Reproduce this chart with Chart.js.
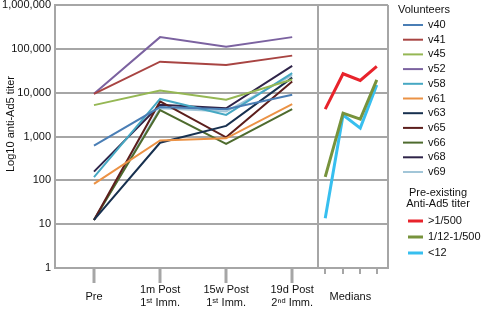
<!DOCTYPE html>
<html>
<head>
<meta charset="utf-8">
<script src="https://cdn.jsdelivr.net/npm/chart.js@4.4.1/dist/chart.umd.min.js"></script>
<style>
html, body { margin: 0; padding: 0; background: #fff; }
#wrap { width: 483px; height: 314px; }
</style>
</head>
<body>
<div id="wrap"><canvas id="titers" width="483" height="314"></canvas></div>
<script>
// x slots: four time points, then the medians panel
const timeLabels = [["Pre"], ["1m Post", "1ˢᵗ Imm."], ["15w Post", "1ˢᵗ Imm."], ["19d Post", "2ⁿᵈ Imm."]];
const timeX = [0, 1, 2, 3];
const medianX = [3.5, 3.77, 4.03, 4.28];
const medianLabelX = 3.88;
const splitX = 3.39;
const xMin = -0.59, xMax = 4.45;
const yTicks = [1, 10, 100, 1000, 10000, 100000, 1000000];

// titers per volunteer (Pre, 1m, 15w, 19d)
const volunteerNames = ["v40", "v41", "v45", "v52", "v58", "v61", "v63", "v65", "v66", "v68", "v69"];
const v40 = [620, 4700, 4200, 9000];
const v41 = [9400, 51000, 43000, 70000];
const v45 = [5200, 11200, 6900, 20000];
const v52 = [9400, 185000, 112000, 185000];
const v58 = [118, 7200, 3100, 28000];
const v61 = [83, 810, 910, 5500];
const v63 = [12.5, 720, 1750, 22000];
const v65 = [12.5, 6300, 960, 18000];
const v66 = [12.5, 4000, 680, 4200];
const v68 = [158, 5300, 4400, 41000];
const v69 = [12.5, 4400, 3700, 25000];
const volunteerColors = ["#4A7EB5", "#A84442", "#95B754", "#7B62A0", "#46A8C3", "#EB9245",
                         "#17304F", "#5C1E1C", "#4E6B2E", "#2F2449", "#A2C6D8"];

// medians by pre-existing titer group
const medianGroups = [">1/500", "1/12-1/500", "<12"];
const medHigh = [4200, 27000, 19000, 40000];
const medMid = [120, 3400, 2500, 19500];
const medLow = [13.6, 3100, 1550, 15000];
const medianColors = ["#E8232B", "#77933C", "#37BFEF"];

const gridGrey = "#A6A6A6";
const font = "'Liberation Sans', Arial, sans-serif";

function pts(xs, ys) {
    return ys.map(function(y, i) { return {x: xs[i], y: y}; });
}

var datasets = [];
[v40, v41, v45, v52, v58, v61, v63, v65, v66, v68, v69].forEach(function(vals, i) {
    datasets.push({
        label: volunteerNames[i],
        data: pts(timeX, vals),
        borderColor: volunteerColors[i],
        borderWidth: 2,
        pointRadius: 0,
        tension: 0,
        group: 'vol'
    });
});
[medHigh, medMid, medLow].forEach(function(vals, i) {
    datasets.push({
        label: medianGroups[i],
        data: pts(medianX, vals),
        borderColor: medianColors[i],
        borderWidth: 3,
        pointRadius: 0,
        tension: 0,
        group: 'med'
    });
});

// y title, x tick marks and the two-part legend
const extras = {
    id: 'extras',
    afterDraw(chart) {
        var ctx = chart.ctx;
        var xs = chart.scales.x;
        var bottom = chart.chartArea.bottom;
        ctx.save();
        ctx.strokeStyle = gridGrey;
        ctx.lineWidth = 3;
        timeX.forEach(function(v) {
            var px = Math.round(xs.getPixelForValue(v));
            ctx.beginPath(); ctx.moveTo(px, bottom); ctx.lineTo(px, bottom + 15); ctx.stroke();
        });
        ctx.lineWidth = 2;
        medianX.forEach(function(v) {
            var px = Math.round(xs.getPixelForValue(v));
            ctx.beginPath(); ctx.moveTo(px, bottom); ctx.lineTo(px, bottom + 6); ctx.stroke();
        });

        ctx.fillStyle = "#111";
        ctx.font = "11px " + font;
        ctx.translate(11, 124);
        ctx.rotate(-Math.PI / 2);
        ctx.textAlign = 'center';
        ctx.textBaseline = 'middle';
        ctx.fillText("Log10 anti-Ad5 titer", 0, 0);
        ctx.restore();

        ctx.save();
        ctx.font = "11px " + font;
        ctx.fillStyle = "#111";
        ctx.textBaseline = 'middle';
        ctx.textAlign = 'left';
        ctx.fillText("Volunteers", 398, 10);
        var ds = chart.data.datasets;
        var vi = 0, mi = 0;
        ds.forEach(function(d) {
            var y;
            if (d.group === 'vol') {
                y = 25 + vi * 14.7; vi++;
                ctx.strokeStyle = d.borderColor; ctx.lineWidth = 2;
                ctx.beginPath(); ctx.moveTo(403, y); ctx.lineTo(423, y); ctx.stroke();
            } else {
                y = 221 + mi * 16; mi++;
                ctx.strokeStyle = d.borderColor; ctx.lineWidth = 3;
                ctx.beginPath(); ctx.moveTo(408, y); ctx.lineTo(423, y); ctx.stroke();
            }
            ctx.fillText(d.label, 428, y);
        });
        ctx.textAlign = 'center';
        ctx.fillText("Pre-existing", 438, 193);
        ctx.fillText("Anti-Ad5 titer", 438, 204);
        ctx.restore();
    }
};

new Chart(document.getElementById("titers"), {
    type: 'line',
    data: { datasets: datasets },
    plugins: [extras],
    options: {
        responsive: false,
        animation: false,
        layout: { padding: { top: 5, right: 95, left: 0, bottom: 0 } },
        plugins: { legend: { display: false }, tooltip: { enabled: false } },
        scales: {
            x: {
                type: 'linear',
                min: xMin,
                max: xMax,
                afterBuildTicks: function(scale) {
                    scale.ticks = timeX.concat([splitX, medianLabelX, xMax]).map(function(v) { return {value: v}; });
                },
                afterFit: function(scale) { scale.height = 46; scale.paddingRight = 0; scale.paddingLeft = 0; },
                grid: {
                    drawTicks: false,
                    lineWidth: 2,
                    color: function(c) {
                        if (c.tick && (c.tick.value === splitX || c.tick.value === xMax)) return gridGrey;
                        return 'rgba(0,0,0,0)';
                    }
                },
                border: { color: gridGrey, width: 2 },
                ticks: {
                    autoSkip: false,
                    maxRotation: 0,
                    minRotation: 0,
                    padding: 22,
                    crossAlign: 'center',
                    color: "#111",
                    font: { family: font, size: 11 },
                    callback: function(value, i) {
                        if (i < timeLabels.length) return timeLabels[i];
                        if (value === medianLabelX) return "Medians";
                        return "";
                    }
                }
            },
            y: {
                type: 'logarithmic',
                min: 1,
                max: 1000000,
                afterBuildTicks: function(scale) {
                    scale.ticks = yTicks.map(function(v) { return {value: v}; });
                },
                afterFit: function(scale) { scale.width = 55; scale.paddingTop = 0; scale.paddingBottom = 0; },
                grid: { color: gridGrey, lineWidth: 2, drawTicks: false },
                border: { color: gridGrey, width: 2 },
                ticks: {
                    padding: 4,
                    color: "#111",
                    font: { family: font, size: 11 },
                    callback: function(value) { return Number(value).toLocaleString('en-US'); }
                }
            }
        }
    }
});
</script>
</body>
</html>
